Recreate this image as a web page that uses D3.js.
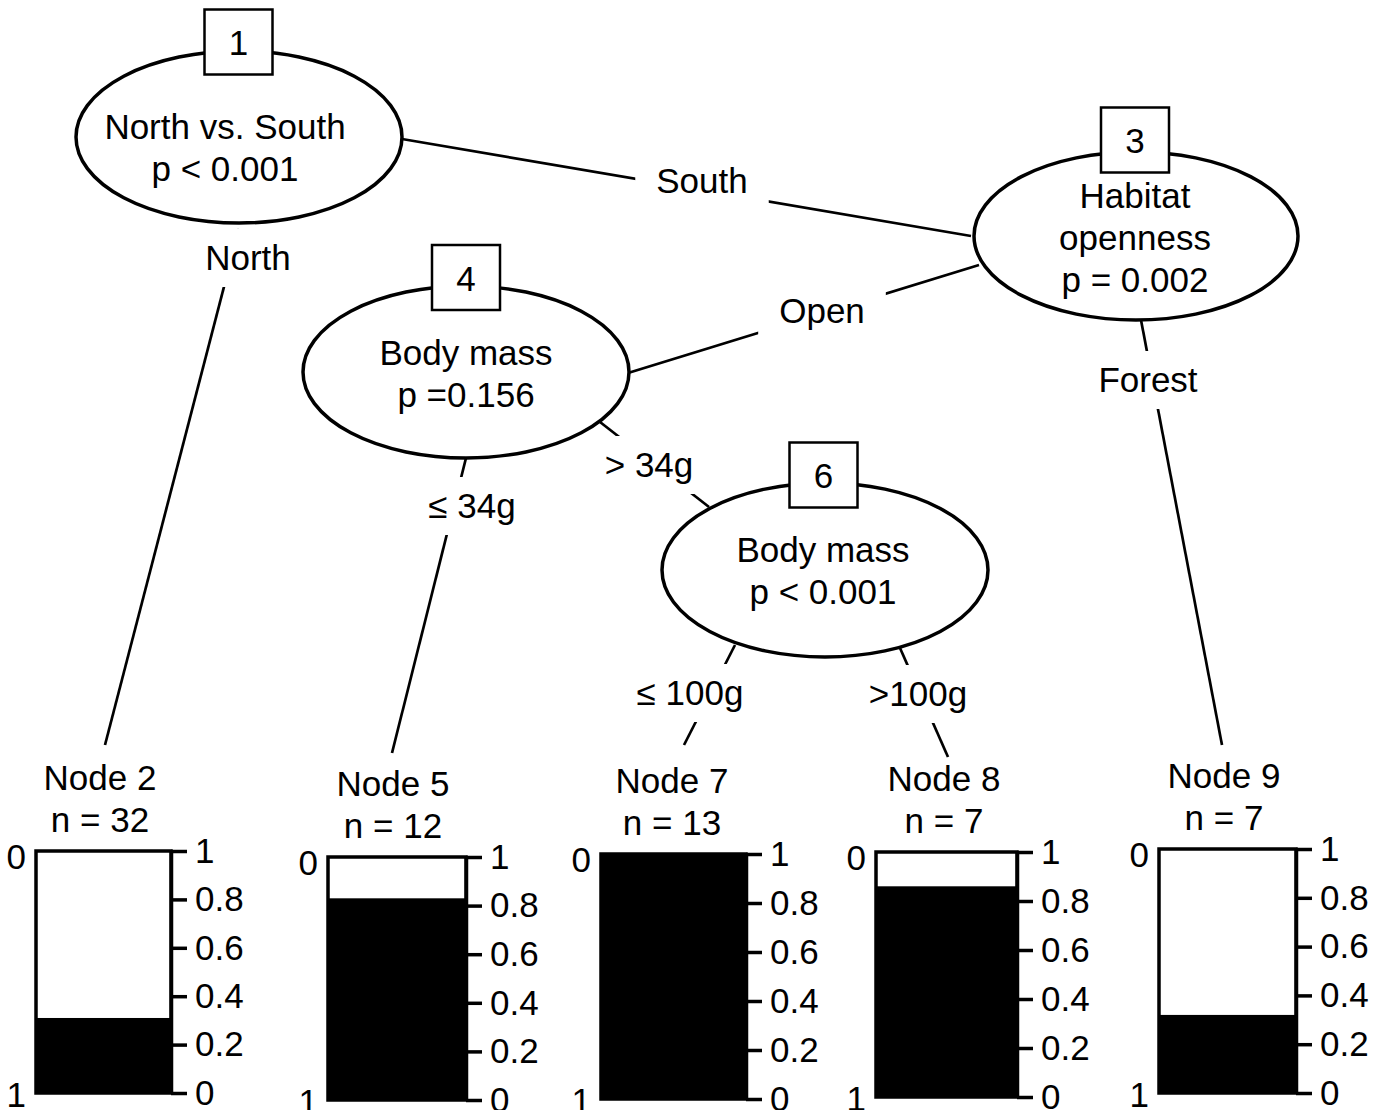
<!DOCTYPE html>
<html>
<head>
<meta charset="utf-8">
<script src="https://cdn.jsdelivr.net/npm/d3@7"></script>
<style>
    body { margin: 0; background: #fff; }
    svg { display: block; }
    text { font-family: "Liberation Sans", Arial, Helvetica, sans-serif; fill: #000; }
</style>
</head>
<body>
<svg id="tree" width="1380" height="1110"></svg>
<script>
// ---- data ----
const innerIds = [1, 3, 4, 6];
const innerLabels = [
    ["North vs. South", "p < 0.001"],
    ["Habitat", "openness", "p = 0.002"],
    ["Body mass", "p =0.156"],
    ["Body mass", "p < 0.001"]
];
const edgeLabels = ["North", "South", "Open", "Forest", "\u2264 34g", "> 34g", "\u2264 100g", ">100g"];
const termIds = [2, 5, 7, 8, 9];
const termN = [32, 12, 13, 7, 7];
const termProp = [0.31, 0.83, 1.0, 0.86, 0.32];     // share of class "1" (black part)
const tickValues = [0, 0.2, 0.4, 0.6, 0.8, 1];
const levelLabels = ["0", "1"];

// ---- layout (pixel positions of the drawing) ----
const innerPos = [
    {cx: 239, cy: 137, rx: 163, ry: 86, tx: 225, ty: 139, bx: 238.5, by: 42},
    {cx: 1136, cy: 236, rx: 162, ry: 84, tx: 1135, ty: 208, bx: 1135, by: 140},
    {cx: 466, cy: 372, rx: 163, ry: 86, tx: 466, ty: 365, bx: 466, by: 277.5},
    {cx: 825, cy: 570, rx: 163, ry: 87, tx: 823, ty: 562, bx: 823.5, by: 475}
];
const lineGap = 42;
const boxW = 68, boxH = 65;

// edges: from, to, label centre
const edgePos = [
    {x1: 239, y1: 229, x2: 105, y2: 745, lx: 248, ly: 258},
    {x1: 402, y1: 139, x2: 971, y2: 236, lx: 702, ly: 181},
    {x1: 979, y1: 265, x2: 628, y2: 373, lx: 822, ly: 311},
    {x1: 1141, y1: 320, x2: 1222, y2: 745, lx: 1148, ly: 380},
    {x1: 466, y1: 458, x2: 392, y2: 753, lx: 472, ly: 506},
    {x1: 600, y1: 422, x2: 709, y2: 507, lx: 649, ly: 465},
    {x1: 735, y1: 645, x2: 684, y2: 745, lx: 690, ly: 693},
    {x1: 900, y1: 648, x2: 948, y2: 757, lx: 918, ly: 694}
];

const termPos = [
    {x: 36, y: 851, w: 135, h: 242, lx: 100},
    {x: 328, y: 857, w: 138, h: 243, lx: 393},
    {x: 601, y: 854, w: 145, h: 245, lx: 672},
    {x: 876, y: 852, w: 141, h: 245, lx: 944},
    {x: 1159, y: 849, w: 137, h: 244, lx: 1224}
];

const fs = 35;

var svg = d3.select("#tree");

// edges first, nodes are painted over them
var edgeG = svg.append("g");
edgeLabels.forEach(function (lab, i) {
    let e = edgePos[i];
    edgeG.append("line")
        .attr("x1", e.x1).attr("y1", e.y1)
        .attr("x2", e.x2).attr("y2", e.y2)
        .style("stroke", "#000")
        .style("stroke-width", 2.7);

    let bg = edgeG.append("rect").style("fill", "#fff");
    let t = edgeG.append("text")
        .attr("x", e.lx)
        .attr("y", e.ly + 12)
        .attr("text-anchor", "middle")
        .attr("font-size", fs)
        .text(lab);
    let bb = t.node().getBBox();
    bg.attr("x", bb.x - 21)
        .attr("y", e.ly - 29)
        .attr("width", bb.width + 42)
        .attr("height", 58);
});

// inner nodes
var innerG = svg.append("g");
innerIds.forEach(function (id, i) {
    let p = innerPos[i];
    innerG.append("ellipse")
        .attr("cx", p.cx).attr("cy", p.cy)
        .attr("rx", p.rx).attr("ry", p.ry)
        .style("fill", "#fff")
        .style("stroke", "#000")
        .style("stroke-width", 3.5);

    innerLabels[i].forEach(function (line, j) {
        innerG.append("text")
            .attr("x", p.tx)
            .attr("y", p.ty + j * lineGap)
            .attr("text-anchor", "middle")
            .attr("font-size", fs)
            .text(line);
    });

    innerG.append("rect")
        .attr("x", p.bx - boxW / 2)
        .attr("y", p.by - boxH / 2)
        .attr("width", boxW)
        .attr("height", boxH)
        .style("fill", "#fff")
        .style("stroke", "#000")
        .style("stroke-width", 2.5);

    innerG.append("text")
        .attr("x", p.bx)
        .attr("y", p.by + 13)
        .attr("text-anchor", "middle")
        .attr("font-size", fs)
        .text(id);
});

// terminal nodes: stacked bar of the two classes
var termG = svg.append("g");
termIds.forEach(function (id, i) {
    let p = termPos[i];
    let y = d3.scaleLinear().domain([0, 1]).range([p.y + p.h, p.y]);

    termG.append("text")
        .attr("x", p.lx).attr("y", p.y - 61)
        .attr("text-anchor", "middle")
        .attr("font-size", fs)
        .text("Node " + id);
    termG.append("text")
        .attr("x", p.lx).attr("y", p.y - 19)
        .attr("text-anchor", "middle")
        .attr("font-size", fs)
        .text("n = " + termN[i]);

    termG.append("rect")
        .attr("x", p.x).attr("y", p.y)
        .attr("width", p.w).attr("height", p.h)
        .style("fill", "#fff");

    termG.append("rect")
        .attr("x", p.x).attr("y", y(termProp[i]))
        .attr("width", p.w)
        .attr("height", y(0) - y(termProp[i]))
        .style("fill", "#000");

    termG.append("rect")
        .attr("x", p.x).attr("y", p.y)
        .attr("width", p.w).attr("height", p.h)
        .style("fill", "none")
        .style("stroke", "#000")
        .style("stroke-width", 3.5);

    let ax = termG.append("g")
        .attr("transform", "translate(" + (p.x + p.w) + ",0)")
        .call(d3.axisRight(y)
            .tickValues(tickValues)
            .tickSize(16)
            .tickSizeOuter(0)
            .tickPadding(8)
            .tickFormat(d => String(d)));
    ax.attr("font-size", fs).attr("font-family", null);
    ax.selectAll("path, line").style("stroke", "#000").style("stroke-width", 3.5);

    // class labels on the left
    termG.append("text")
        .attr("x", p.x - 10).attr("y", p.y + 6)
        .attr("dy", "0.35em")
        .attr("text-anchor", "end")
        .attr("font-size", fs)
        .text(levelLabels[0]);
    termG.append("text")
        .attr("x", p.x - 10).attr("y", p.y + p.h + 2)
        .attr("dy", "0.35em")
        .attr("text-anchor", "end")
        .attr("font-size", fs)
        .text(levelLabels[1]);
});
</script>
</body>
</html>
